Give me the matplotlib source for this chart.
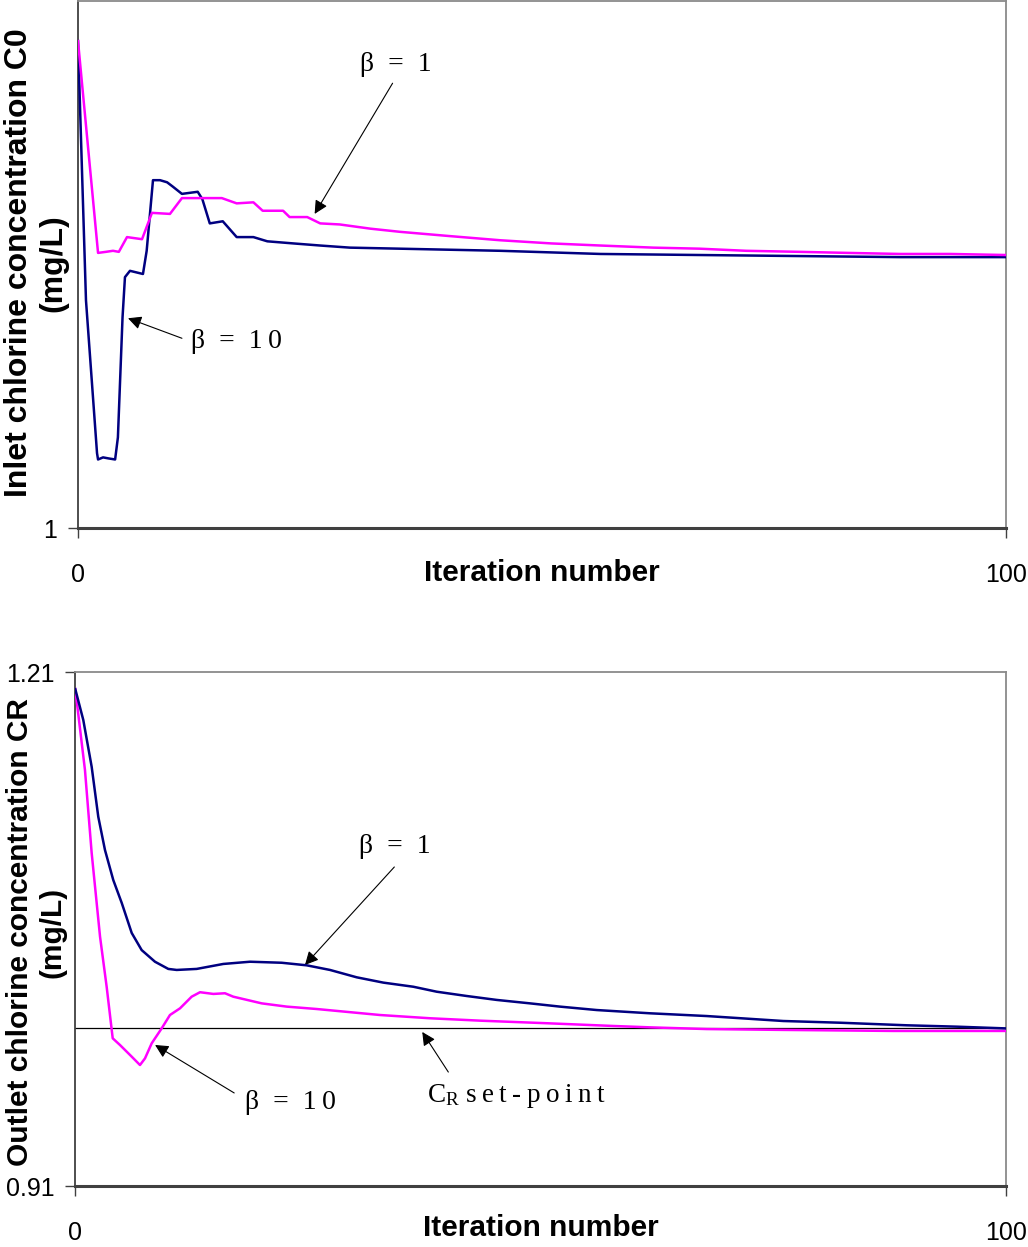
import matplotlib
matplotlib.use("Agg")
import matplotlib.pyplot as plt

plt.rcParams['font.family'] = ['Liberation Sans', 'DejaVu Sans']
plt.rcParams['mathtext.fontset'] = 'custom'
plt.rcParams['mathtext.rm'] = 'Liberation Serif'
plt.rcParams['mathtext.it'] = 'Liberation Serif:italic'

# ---- Inlet chlorine concentration C0 (upper panel) ----
inlet_iter_b1 = [0, 2.16, 3.0, 3.77, 4.4, 5.28, 6.9, 7.97, 9.91, 11.2, 15.5, 17.1,
                 18.9, 19.9, 22.1, 22.8, 24.7, 26.1, 28.2, 31.5, 34.7, 40.0, 45.5,
                 51.0, 56.3, 62.0, 67.0, 72.0, 77.8, 83.0, 88.6, 94.0, 100]
inlet_c0_b1 = [1.462, 1.261, 1.262, 1.263, 1.262, 1.276, 1.274, 1.299, 1.298, 1.313,
               1.313, 1.308, 1.309, 1.301, 1.301, 1.295, 1.295, 1.289, 1.288, 1.284,
               1.281, 1.277, 1.273, 1.270, 1.268, 1.266, 1.265, 1.263, 1.262, 1.261,
               1.260, 1.260, 1.259]

inlet_iter_b10 = [0, 0.86, 2.05, 2.16, 2.7, 3.3, 4.0, 4.3, 4.8, 5.06, 5.6, 7.0, 7.4,
                  8.08, 8.84, 9.6, 10.2, 11.2, 12.9, 13.4, 14.2, 15.6, 17.1, 18.9,
                  20.4, 23.2, 26.1, 29.3, 34.7, 45.5, 56.3, 67.0, 77.8, 88.6, 100]
inlet_c0_b10 = [1.462, 1.216, 1.071, 1.065, 1.067, 1.066, 1.065, 1.086, 1.200, 1.238,
                1.244, 1.241, 1.263, 1.330, 1.330, 1.328, 1.324, 1.317, 1.319, 1.312,
                1.289, 1.291, 1.276, 1.276, 1.272, 1.270, 1.268, 1.266, 1.265, 1.263,
                1.260, 1.259, 1.258, 1.257, 1.257]

# ---- Outlet chlorine concentration CR (lower panel) ----
outlet_iter_b1 = [0.03, 0.89, 1.79, 2.50, 3.22, 4.11, 5.02, 6.09, 7.16, 8.59, 10.02,
                  10.92, 13.07, 15.93, 18.80, 22.20, 24.89, 27.39, 30.26, 33.12, 36.34,
                  38.85, 42.07, 45.30, 48.87, 52.09, 56.04, 61.76, 67.85, 76.08, 82.17,
                  89.33, 94.70, 99.89]
outlet_cr_b1 = [1.2000, 1.1820, 1.1547, 1.1255, 1.1061, 1.0886, 1.0752, 1.0577, 1.0477,
                1.0409, 1.0367, 1.0361, 1.0367, 1.0396, 1.0409, 1.0403, 1.0388, 1.0361,
                1.0318, 1.0287, 1.0263, 1.0234, 1.0209, 1.0186, 1.0166, 1.0147, 1.0127,
                1.0108, 1.0092, 1.0063, 1.0053, 1.0038, 1.0030, 1.0020]

outlet_iter_b10 = [0.03, 1.07, 1.79, 2.69, 3.40, 4.05, 4.83, 6.09, 6.98, 7.52, 8.24,
                   9.31, 10.20, 11.28, 12.53, 13.43, 14.86, 16.11, 17.00, 20.05, 22.74,
                   25.96, 32.76, 38.13, 43.50, 50.67, 57.82, 61.76, 67.85, 76.08, 87.89,
                   99.89]
outlet_cr_b10 = [1.2000, 1.1528, 1.1044, 1.0555, 1.0263, 0.9962, 0.9923, 0.9855, 0.9806,
                 0.9845, 0.9933, 1.0020, 1.0098, 1.0137, 1.0205, 1.0231, 1.0221, 1.0225,
                 1.0205, 1.0166, 1.0147, 1.0133, 1.0098, 1.0079, 1.0065, 1.0050, 1.0034,
                 1.0026, 1.0016, 1.0011, 1.0005, 1.0005]

cr_setpoint = 1.002

PINK = '#FF00FF'
NAVY = '#000080'
W, H = 1028, 1247

fig = plt.figure(figsize=(W / 100, H / 100), dpi=100)
ax1 = fig.add_axes([78 / W, 1 - 528 / H, 928 / W, 527 / H])
ax2 = fig.add_axes([75 / W, 1 - 1186 / H, 931 / W, 514 / H])

serif = ['Liberation Serif', 'DejaVu Serif']
arrow = dict(arrowstyle='-|>', lw=0.8, color='black', mutation_scale=20,
             shrinkA=0, shrinkB=0)
TS = '\u2009'  # thin space used for the loose letter tracking of the labels


def tracked(s):
    return TS.join(s)


def style_axes(ax, ylabel, ysize, ycoord):
    ax.set_xlim(0, 100)
    ax.set_xticks([0, 100])
    ax.tick_params(axis='both', direction='out', length=7, width=1,
                   color='#404040', labelsize=18, pad=8)
    ax.tick_params(axis='x', pad=18)
    for side in ('top', 'right'):
        ax.spines[side].set_color('#8a8a8a')
        ax.spines[side].set_linewidth(1.3)
    ax.spines['left'].set_color('#404040')
    ax.spines['left'].set_linewidth(1.3)
    ax.spines['bottom'].set_color('#404040')
    ax.spines['bottom'].set_linewidth(2.2)
    ax.set_xlabel('Iteration number', fontsize=21.5, fontweight='bold', va='center')
    ax.set_ylabel(ylabel, fontsize=ysize, fontweight='bold', va='center',
                  linespacing=1.2)
    ax.yaxis.set_label_coords(ycoord[0], ycoord[1])


# upper panel
ax1.plot(inlet_iter_b10, inlet_c0_b10, color=NAVY, lw=1.8, zorder=3)
ax1.plot(inlet_iter_b1, inlet_c0_b1, color=PINK, lw=1.8, zorder=4)
ax1.set_ylim(1, 1.5)
ax1.set_yticks([1])
style_axes(ax1, 'Inlet chlorine concentration C0\n(mg/L)', 23, (-0.0447, 0.503))
ax1.xaxis.set_label_coords(0.5, -0.0854)

ax1.text(34.2, 1.440, 'β  =  1', fontsize=20, family=serif, ha='center', va='center')
ax1.annotate('', xy=(25.5, 1.298), xytext=(33.9, 1.422), arrowprops=arrow)
ax1.text(17.1, 1.177, 'β  =  1' + TS + '0', fontsize=20, family=serif,
         ha='center', va='center')
ax1.annotate('', xy=(5.39, 1.199), xytext=(11.2, 1.180), arrowprops=arrow)

# lower panel
ax2.axhline(cr_setpoint, color='black', lw=0.9, zorder=2)
ax2.plot(outlet_iter_b10, outlet_cr_b10, color=PINK, lw=1.8, zorder=3)
ax2.plot(outlet_iter_b1, outlet_cr_b1, color=NAVY, lw=1.8, zorder=4)
ax2.set_ylim(0.91, 1.21)
ax2.set_yticks([0.91, 1.21])
ax2.set_yticklabels(['0.91', '1.21'])
style_axes(ax2, 'Outlet chlorine concentration CR\n(mg/L)', 21.5, (-0.0414, 0.494))
ax2.xaxis.set_label_coords(0.5, -0.0817)

ax2.text(34.4, 1.1079, 'β  =  1', fontsize=20, family=serif, ha='center', va='center')
ax2.annotate('', xy=(24.7, 1.039), xytext=(34.3, 1.0962), arrowprops=arrow)
ax2.text(23.1, 0.959, 'β  =  1' + TS + '0', fontsize=20, family=serif,
         ha='center', va='center')
ax2.annotate('', xy=(8.6, 0.9923), xytext=(17.1, 0.9643), arrowprops=arrow)
ax2.text(47.4, 0.9625, r'C$_{\mathrm{R}}$ ' + tracked('set-point'), fontsize=19.5,
         family=serif, ha='center', va='center')
ax2.annotate('', xy=(37.3, 0.9999), xytext=(40.1, 0.9765), arrowprops=arrow)

fig.savefig('out.png', dpi=100)
